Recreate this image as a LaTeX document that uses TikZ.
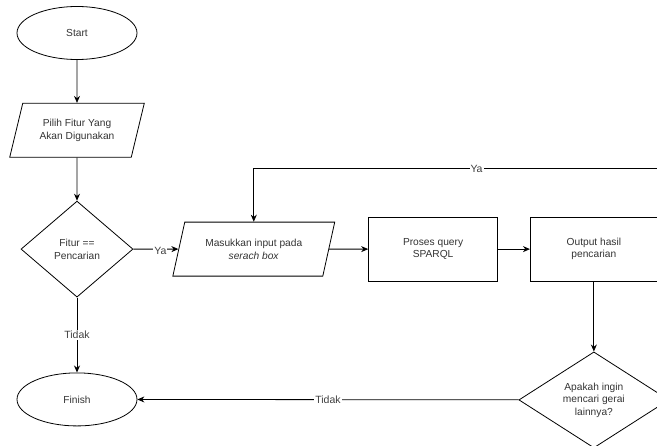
\documentclass[tikz,border=0pt]{standalone}
\usepackage{fontspec}
\setmainfont{Liberation Sans}
\usetikzlibrary{arrows.meta,positioning,shapes.geometric,calc}

\begin{document}
\begin{tikzpicture}[
  x=1pt, y=-1pt,
  font=\fontsize{10.2}{12.5}\selectfont,
  term/.style={draw, ellipse, minimum width=120pt, minimum height=53pt,
    inner sep=0pt, line width=0.8pt, text=black!80},
  io/.style={draw, trapezium, trapezium left angle=70, trapezium right angle=110,
    trapezium stretches=true, minimum height=54pt, align=center, inner sep=2pt,
    line width=0.8pt, text=black!80},
  proc/.style={draw, minimum width=129pt, minimum height=64pt, align=center,
    line width=0.8pt, text=black!80},
  dec/.style={draw, diamond, aspect=1.5, minimum height=96pt, align=center,
    inner sep=0pt, line width=0.8pt, text=black!80},
  arr/.style={-{Stealth[length=7pt, width=6pt]}, line width=0.8pt},
  lbl/.style={fill=white, inner sep=1pt, font=\fontsize{10.5}{12}\selectfont, text=black!75}
]
\useasboundingbox (0,0) rectangle (657,446);

\node[term] (start) at (77,33) {Start};
\node[io, minimum width=135pt, below=43pt of start] (pilih) {Pilih Fitur Yang\\Akan Digunakan};
\node[dec, minimum width=112pt, below=43pt of pilih] (fitur) {Fitur ==\\Pencarian};
\node[term, below=75pt of fitur] (finish) {Finish};
\node[io, minimum width=162pt, right=45pt of fitur] (masuk) {Masukkan input pada\\\textit{serach box}};
\node[proc, right=39pt of masuk] (proses) {Proses query\\SPARQL};
\node[proc, minimum width=127pt, right=32pt of proses] (output) {Output hasil\\pencarian};
\node[dec, minimum width=150pt, below=70pt of output] (apakah) {Apakah ingin\\mencari gerai\\lainnya?};

\coordinate[above=53pt of masuk.north] (loop);

\draw[arr] (start) -- (pilih);
\draw[arr] (pilih) -- (fitur);
\draw[arr] (fitur) -- node[lbl, pos=0.6, yshift=-2pt]{Ya} (masuk);
\draw[arr] (fitur) -- node[lbl]{Tidak} (finish);
\draw[arr] (masuk) -- (proses);
\draw[arr] (proses) -- (output);
\draw[arr] (output) -- (apakah);
\draw[arr] (apakah) -- node[lbl]{Tidak} (finish);
\draw[arr] (apakah.east) -- ++(30,0) |- node[lbl, pos=0.75]{Ya} (loop) -- (masuk.north);

\end{tikzpicture}
\end{document}
